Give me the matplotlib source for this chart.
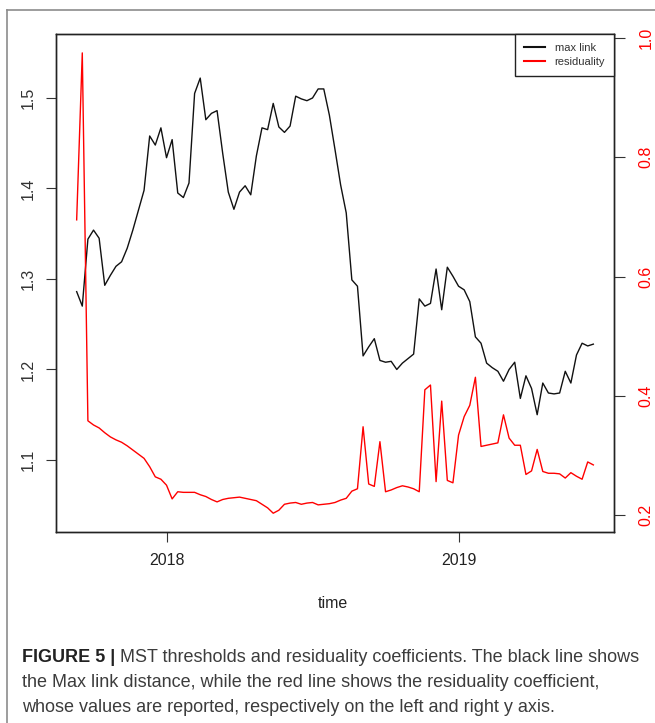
import numpy as np
import pandas as pd
import matplotlib
matplotlib.use("Agg")
import matplotlib.pyplot as plt
from matplotlib.lines import Line2D

plt.rcParams["font.family"] = ["Liberation Sans", "DejaVu Sans"]

# Weekly observations
dates = pd.date_range("2017-09-11", periods=93, freq="7D")

max_link = [
    1.286, 1.270, 1.344, 1.354, 1.345, 1.293, 1.304, 1.314, 1.319, 1.334,
    1.354, 1.376, 1.398, 1.458, 1.448, 1.467, 1.434, 1.454, 1.395, 1.390,
    1.406, 1.505, 1.522, 1.476, 1.483, 1.486, 1.439, 1.396, 1.377, 1.396,
    1.403, 1.393, 1.436, 1.467, 1.465, 1.494, 1.468, 1.462, 1.469, 1.502,
    1.499, 1.497, 1.500, 1.510, 1.510, 1.481, 1.443, 1.404, 1.373, 1.299,
    1.292, 1.215, 1.225, 1.234, 1.210, 1.208, 1.209, 1.200, 1.207, 1.212,
    1.217, 1.278, 1.270, 1.273, 1.311, 1.266, 1.313, 1.303, 1.292, 1.288,
    1.275, 1.236, 1.229, 1.207, 1.202, 1.198, 1.187, 1.200, 1.208, 1.168,
    1.193, 1.179, 1.150, 1.185, 1.174, 1.173, 1.174, 1.198, 1.185, 1.216,
    1.229, 1.226, 1.228,
]

residuality = [
    0.695, 0.975, 0.358, 0.351, 0.346, 0.338, 0.331, 0.326, 0.322, 0.316,
    0.309, 0.302, 0.295, 0.281, 0.264, 0.260, 0.250, 0.227, 0.239, 0.238,
    0.238, 0.238, 0.234, 0.231, 0.226, 0.222, 0.226, 0.228, 0.229, 0.230,
    0.228, 0.226, 0.224, 0.218, 0.212, 0.203, 0.208, 0.218, 0.220, 0.221,
    0.218, 0.220, 0.221, 0.217, 0.218, 0.219, 0.221, 0.225, 0.228, 0.240,
    0.244, 0.348, 0.252, 0.248, 0.323, 0.239, 0.242, 0.246, 0.249, 0.247,
    0.244, 0.239, 0.410, 0.418, 0.256, 0.391, 0.258, 0.254, 0.334, 0.365,
    0.384, 0.431, 0.315, 0.317, 0.319, 0.321, 0.368, 0.329, 0.317, 0.317,
    0.268, 0.274, 0.310, 0.273, 0.270, 0.270, 0.269, 0.262, 0.271, 0.265,
    0.260, 0.289, 0.284,
]

left_ticks = [1.1, 1.2, 1.3, 1.4, 1.5]
right_ticks = [0.2, 0.4, 0.6, 0.8, 1.0]
year_ticks = ["2018-01-01", "2019-01-01"]
year_labels = ["2018", "2019"]
legend_labels = ["max link", "residuality"]

caption_bold = "FIGURE 5 | "
caption_lines = [
    "MST thresholds and residuality coefficients. The black line shows",
    "the Max link distance, while the red line shows the residuality coefficient,",
    "whose values are reported, respectively on the left and right y axis.",
]

W, H = 655, 723
fig = plt.figure(figsize=(W / 100, H / 100), dpi=100)

# page frame (top and left edges)
fig.add_artist(Line2D([7 / W, 1.0], [1 - 10 / H, 1 - 10 / H], color="#8c8c8c", lw=1.2))
fig.add_artist(Line2D([7 / W, 7 / W], [0, 1 - 10 / H], color="#8c8c8c", lw=1.2))

L, R, T, B = 56, 614, 34, 532
ax = fig.add_axes([L / W, 1 - B / H, (R - L) / W, (B - T) / H])
ax.plot(dates, max_link, color="#111111", lw=1.0)

span = dates[-1] - dates[0]
ax.set_xlim(dates[0] - span * 0.04, dates[-1] + span * 0.04)
ax.set_ylim(1.0204, 1.5707)

ax2 = ax.twinx()
ax2.plot(dates, residuality, color="#ff0000", lw=1.0)
ax2.set_ylim(0.1715, 1.0067)

for a in (ax, ax2):
    for s in a.spines.values():
        s.set_color("#222222")
        s.set_linewidth(1.0)

tick_fs = 11.5
ax.set_xticks(pd.to_datetime(year_ticks))
ax.set_xticklabels(year_labels, fontsize=tick_fs, color="#222222")
ax.tick_params(axis="x", length=7, width=0.8, color="#333333", pad=8)

ax.set_yticks(left_ticks)
ax.set_yticklabels([f"{v:.1f}" for v in left_ticks], fontsize=tick_fs,
                   color="#333333", rotation=90, va="center")
ax.tick_params(axis="y", length=7, width=0.8, color="#333333", pad=7.5)

ax2.set_yticks(right_ticks)
ax2.set_yticklabels([f"{v:.1f}" for v in right_ticks], fontsize=tick_fs,
                    color="#ff0000", rotation=90, va="center")
ax2.tick_params(axis="y", length=8, width=0.8, color="#333333", pad=9.5)

fig.text(333 / W, 1 - 604 / H, "time", ha="center", va="center",
         fontsize=tick_fs, color="#222222")

handles = [Line2D([], [], color="#111111", lw=1.5), Line2D([], [], color="#ff0000", lw=1.5)]
leg = ax2.legend(handles, legend_labels, loc="upper right", fontsize=8,
                 borderaxespad=0, fancybox=False, framealpha=1,
                 edgecolor="#222222", handlelength=1.9, handletextpad=0.9,
                 labelspacing=0.4, borderpad=0.8)
leg.get_frame().set_linewidth(1.0)
for t in leg.get_texts():
    t.set_color("#333333")

# caption below the chart
renderer = fig.canvas.get_renderer()
cap_x = 22 / W
baselines = [662, 687, 712]
cap_fs = 13
probe_b = fig.text(0, 0, caption_bold, fontsize=cap_fs, fontweight="bold")
probe_n = fig.text(0, 0, caption_lines[0], fontsize=cap_fs)
wtot = (probe_b.get_window_extent(renderer).width
        + probe_n.get_window_extent(renderer).width)
probe_b.remove()
probe_n.remove()
cap_fs = cap_fs * 616 / wtot

tb = fig.text(cap_x, 1 - baselines[0] / H, caption_bold, fontsize=cap_fs,
              fontweight="bold", color="#222222", va="baseline", ha="left")
bw = tb.get_window_extent(renderer).width
fig.text(cap_x + bw / W, 1 - baselines[0] / H, caption_lines[0], fontsize=cap_fs,
         color="#3c3c3c", va="baseline", ha="left")
for line, y in zip(caption_lines[1:], baselines[1:]):
    fig.text(cap_x, 1 - y / H, line, fontsize=cap_fs, color="#3c3c3c",
             va="baseline", ha="left")

fig.savefig("out.png", dpi=100, facecolor="white")
